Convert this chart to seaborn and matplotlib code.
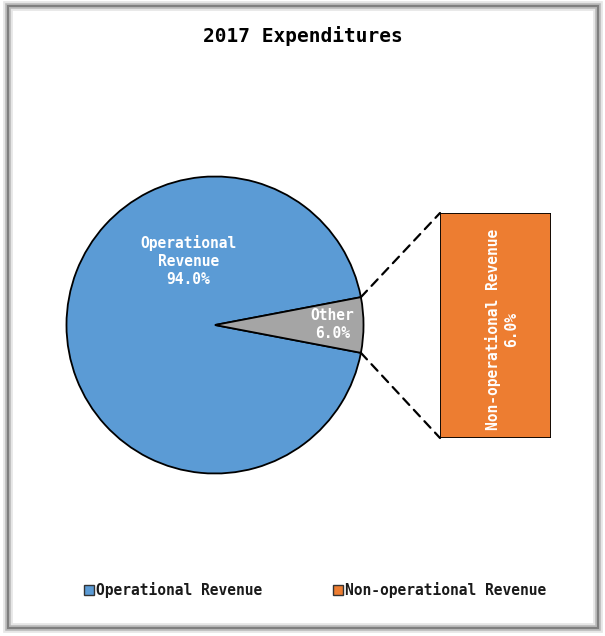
import numpy as np
import seaborn as sns
import matplotlib.pyplot as plt
from matplotlib.patches import Rectangle, Patch, ConnectionPatch

# data
pie_labels = ['Operational\nRevenue', 'Other']
pie_values = [94.0, 6.0]
bar_labels = ['Non-operational Revenue']
bar_values = [6.0]
legend_labels = ['Operational Revenue', 'Non-operational Revenue']
title = '2017 Expenditures'

blue = '#5B9BD5'
orange = '#ED7D31'
gray = '#A5A5A5'

sns.set_style('white')
plt.rcParams['font.family'] = ['DejaVu Sans Mono', 'DejaVu Sans']
plt.rcParams['text.color'] = 'black'

W, H = 605, 636
fig = plt.figure(figsize=(W / 100, H / 100), dpi=100)
fig.patch.set_facecolor('white')

# chart frame with a soft shadow
for lw, c in [(7, '#e6e6e6'), (4, '#b8b8b8'), (1.5, '#7f7f7f')]:
    fig.patches.append(Rectangle((8 / W, 8 / H), 590 / W, 622 / H, transform=fig.transFigure,
                                 fill=False, edgecolor=c, linewidth=lw, zorder=0))

fig.text(0.5, 1 - 36 / H, title, ha='center', va='center', fontsize=14, fontweight='bold',
         color='black')

# pie
ax1 = fig.add_axes([65 / W, 161 / H, 300 / W, 300 / H])
other_frac = pie_values[1] / sum(pie_values)
start = other_frac * 360 / 2
wedges, _ = ax1.pie(pie_values, colors=[blue, gray], startangle=start,
                    wedgeprops=dict(edgecolor='black', linewidth=1.3), radius=1)
ax1.set_xlim(-1.01, 1.01)
ax1.set_ylim(-1.01, 1.01)
ax1.set_aspect('equal')
ax1.axis('off')

ax1.text(-0.18, 0.43, f'{pie_labels[0]}\n{pie_values[0]:.1f}%', ha='center', va='center',
         color='white', fontsize=10.5, fontweight='bold', linespacing=1.25)
ax1.text(0.79, 0.0, f'{pie_labels[1]}\n{pie_values[1]:.1f}%', ha='center', va='center',
         color='white', fontsize=10.5, fontweight='bold', linespacing=1.25)

# bar of the "other" slice
ax2 = fig.add_axes([440 / W, 198 / H, 111 / W, 225 / H])
ax2.bar([0], bar_values, width=1, color=orange, edgecolor='black', linewidth=1.3)
ax2.set_xlim(-0.5, 0.5)
ax2.set_ylim(0, sum(bar_values))
ax2.axis('off')
ax2.text(0.06, bar_values[0] / 2 - 0.1, f'{bar_labels[0]}\n{bar_values[0]:.1f}%', rotation=90,
         ha='center', va='center', color='white', fontsize=10.5, fontweight='bold',
         linespacing=1.25)

# connectors from slice edges to bar corners
half = np.deg2rad(other_frac * 360 / 2)
for sgn, y in [(1, sum(bar_values)), (-1, 0)]:
    p = (np.cos(half), sgn * np.sin(half))
    con = ConnectionPatch(xyA=p, coordsA=ax1.transData, xyB=(-0.5, y), coordsB=ax2.transData,
                          linestyle=(0, (4, 3)), color='black', linewidth=1.6)
    fig.add_artist(con)

handles = [Patch(facecolor=blue, edgecolor='#333333'), Patch(facecolor=orange, edgecolor='#333333')]
leg = fig.legend(handles, legend_labels, loc='center', bbox_to_anchor=(315 / W, 1 - 590 / H), ncol=2,
                 frameon=False, prop=dict(size=10.5, weight='bold'), handlelength=0.7,
                 handleheight=0.7, handletextpad=0.15, columnspacing=4.8)
for t in leg.get_texts():
    t.set_color('#1a1a1a')

fig.savefig('out.png', dpi=100)
